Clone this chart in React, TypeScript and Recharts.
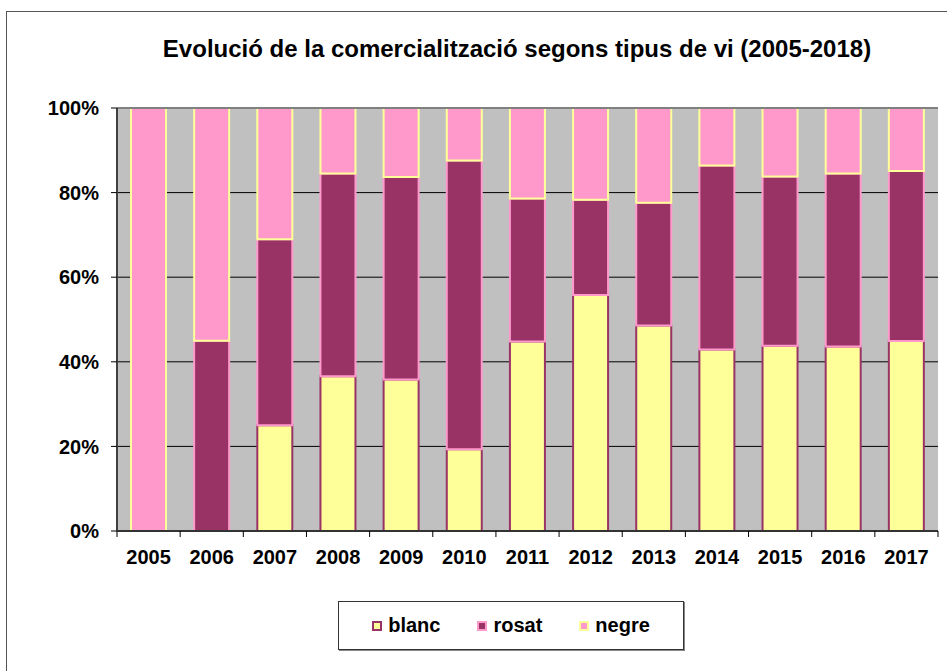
import { BarChart, Bar, XAxis, YAxis, CartesianGrid, Legend, ReferenceLine } from "recharts";

const YEARS = ["2005", "2006", "2007", "2008", "2009", "2010", "2011", "2012", "2013", "2014", "2015", "2016", "2017"];
const BLANC = [0, 0, 25, 36.6, 35.8, 19.3, 44.8, 55.8, 48.6, 42.9, 43.8, 43.6, 44.9];
const ROSAT = [0, 45, 44, 47.9, 47.9, 68.3, 33.8, 22.5, 29, 43.5, 40, 40.9, 40.2];
const NEGRE = [100, 55, 31, 15.5, 16.3, 12.4, 21.4, 21.7, 22.4, 13.6, 16.2, 15.5, 14.9];
const Y_TICKS = [0, 0.2, 0.4, 0.6, 0.8, 1];

const SERIES = [
  { key: "blanc", name: "blanc", fill: "#FFFF99", stroke: "#993366" },
  { key: "rosat", name: "rosat", fill: "#993366", stroke: "#FF99CC" },
  { key: "negre", name: "negre", fill: "#FF99CC", stroke: "#FFFF99" },
];

const data = YEARS.map((year, i) => ({ year, blanc: BLANC[i], rosat: ROSAT[i], negre: NEGRE[i] }));

const FONT = "Arial, 'Liberation Sans', sans-serif";
const tickStyle = { fontSize: 20, fontWeight: "bold", fill: "#000", fontFamily: FONT };

// Excel puts the category ticks between the bars, so draw them from the tick itself
function YearTick(props: any) {
  const { x, y, payload, visibleTicksCount } = props;
  const off = payload.offset || 0;
  const last = payload.index === visibleTicksCount - 1;
  return (
    <g>
      <line x1={x - off} x2={x - off} y1={y} y2={y + 6} stroke="#000" />
      {last && <line x1={x + off} x2={x + off} y1={y} y2={y + 6} stroke="#000" />}
      <text x={x} y={y + 19} dy="0.71em" textAnchor="middle" style={tickStyle}>{payload.value}</text>
    </g>
  );
}

function LegendBox() {
  return (
    <div style={{
      boxSizing: "border-box", width: 346, height: 49, border: "1px solid #333",
      boxShadow: "1px 1px 0 #888", background: "#fff", display: "flex",
      alignItems: "center", justifyContent: "center", gap: 37, fontFamily: FONT,
    }}>
      {SERIES.map(s => (
        <div key={s.key} style={{ display: "flex", alignItems: "center" }}>
          <span style={{
            display: "inline-block", boxSizing: "border-box", width: 10, height: 10,
            background: s.fill, border: `2px solid ${s.stroke}`, marginRight: 6,
          }} />
          <span style={{ fontSize: 20, fontWeight: "bold", color: "#000" }}>{s.name}</span>
        </div>
      ))}
    </div>
  );
}

export default function App() {
  return (
    <div style={{ position: "absolute", left: 0, top: 0, width: 947, height: 671, overflow: "hidden", background: "#fff" }}>
      <div style={{ position: "absolute", left: 6, top: 11, width: 941, height: 660, borderLeft: "1px solid #555", borderTop: "1px solid #555", boxSizing: "border-box" }} />
      <div style={{
        position: "absolute", left: 117, top: 35, width: 800, textAlign: "center",
        whiteSpace: "nowrap", fontFamily: FONT, fontWeight: "bold", fontSize: 24, color: "#000",
      }}>
        Evolució de la comercialització segons tipus de vi (2005-2018)
      </div>
      <BarChart
        width={947}
        height={671}
        data={data}
        stackOffset="expand"
        margin={{ top: 108, right: 9, bottom: 100, left: 37 }}
        style={{ position: "absolute", left: 0, top: 0 }}
      >
        <CartesianGrid yAxisId="left" xAxisId="cat" vertical={false} stroke="#000" fill="#C0C0C0" fillOpacity={1} />
        <XAxis
          xAxisId="cat"
          dataKey="year"
          height={40}
          interval={0}
          axisLine={{ stroke: "#333", strokeWidth: 2 }}
          tickLine={false}
          tickSize={0}
          tickMargin={0}
          tick={<YearTick />}
        />
        <YAxis
          yAxisId="left"
          width={80}
          domain={[0, 1]}
          ticks={Y_TICKS}
          tickFormatter={v => `${Math.round(v * 100)}%`}
          tick={tickStyle}
          tickMargin={12}
          tickSize={6}
          axisLine={{ stroke: "#404040", strokeWidth: 2 }}
          tickLine={{ stroke: "#000" }}
        />
        <YAxis
          yAxisId="right"
          orientation="right"
          width={0}
          domain={[0, 1]}
          tick={false}
          tickLine={false}
          axisLine={{ stroke: "#808080", strokeWidth: 2 }}
        />
        <ReferenceLine yAxisId="left" xAxisId="cat" y={1} stroke="#808080" strokeWidth={2} />
        {SERIES.map(s => (
          <Bar
            key={s.key}
            dataKey={s.key}
            name={s.name}
            stackId="a"
            xAxisId="cat"
            yAxisId="left"
            fill={s.fill}
            stroke={s.stroke}
            strokeWidth={2}
            barSize={35}
            isAnimationActive={false}
          />
        ))}
        <Legend
          layout="horizontal"
          verticalAlign="middle"
          align="center"
          wrapperStyle={{ left: 338, top: 601, width: 346, height: 49 }}
          content={() => <LegendBox />}
        />
      </BarChart>
    </div>
  );
}
